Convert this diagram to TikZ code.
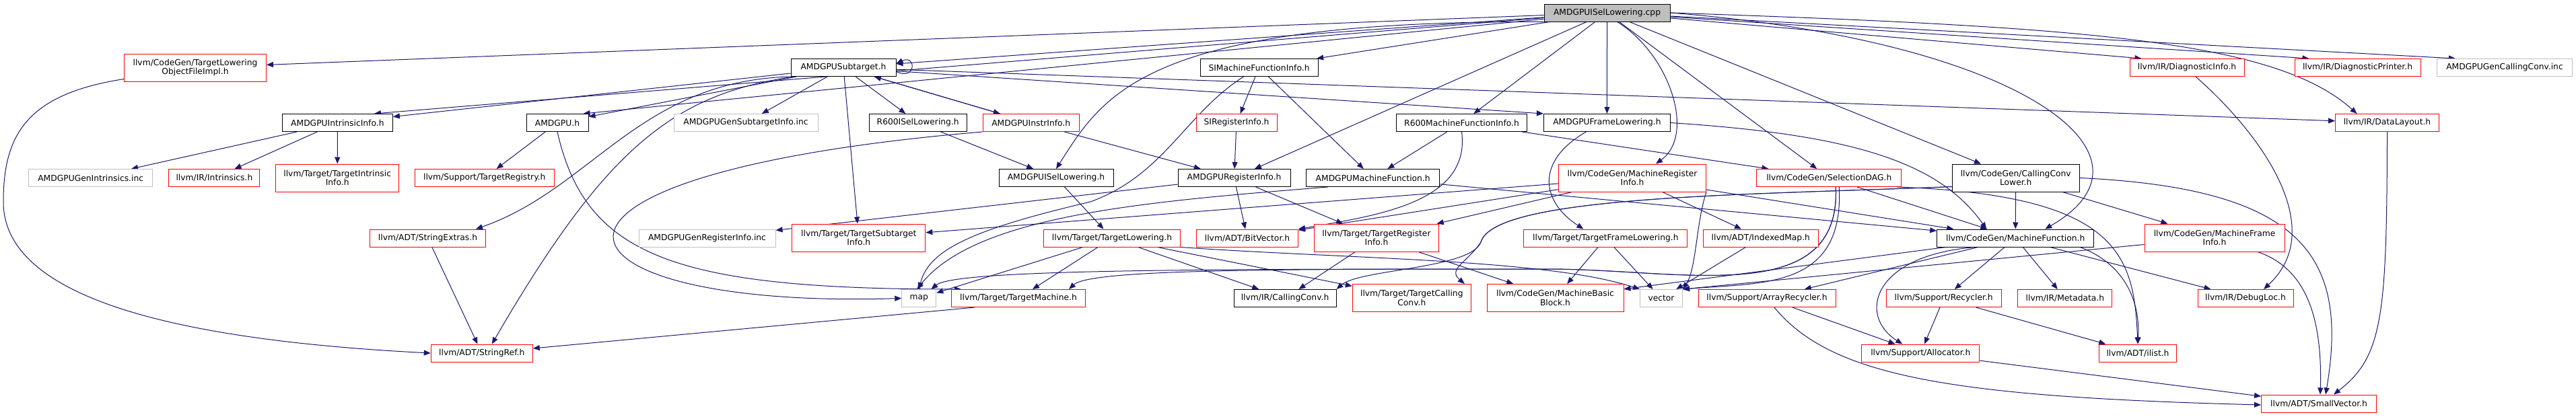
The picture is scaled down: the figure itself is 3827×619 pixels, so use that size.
\documentclass[tikz,border=0pt]{standalone}
\usepackage{fontspec}
\setmainfont{DejaVu Sans}
\usepackage{xcolor}
\usepackage{tikz}
\usetikzlibrary{arrows.meta}
\pgfdeclarelayer{edges}
\pgfsetlayers{edges,main}
\definecolor{edgeblue}{HTML}{191970}
\definecolor{extgray}{HTML}{BFBFBF}

\begin{document}
\begin{tikzpicture}[
  x=1pt, y=-1pt,
  font=\fontsize{12.3}{13.4}\selectfont,
  box/.style={draw, fill=white, line width=1pt, align=center, minimum height=26pt, inner sep=2pt},
  hdr/.style={box, draw=black},
  trunc/.style={box, draw=red},
  ext/.style={box, draw=extgray},
  root/.style={box, draw=black, fill=extgray},
  tall/.style={minimum height=41pt},
  dep/.style={-{Triangle[length=10pt, width=8pt]}, draw=edgeblue, line width=1pt}]
\useasboundingbox (0,0) rectangle (3827,619);

\node[root, minimum width=187pt] (cpp) at (2387.5,19) {AMDGPUISelLowering.cpp};

\node[trunc, tall, minimum width=211pt] (tlofi) at (290,100.5) {llvm/CodeGen/TargetLowering\\ObjectFileImpl.h};
\node[hdr, minimum width=156pt] (subtgt) at (1253,100.5) {AMDGPUSubtarget.h};
\node[hdr, minimum width=175pt] (simfi) at (1870.5,100.5) {SIMachineFunctionInfo.h};
\node[trunc, minimum width=170pt] (diaginfo) at (3249,100.5) {llvm/IR/DiagnosticInfo.h};
\node[trunc, minimum width=187pt] (diagprn) at (3502.5,100.5) {llvm/IR/DiagnosticPrinter.h};
\node[ext, minimum width=201pt] (gencc) at (3721,100.5) {AMDGPUGenCallingConv.inc};

\node[hdr, minimum width=164pt] (intrinfo) at (501.4,182.5) {AMDGPUIntrinsicInfo.h};
\node[hdr, minimum width=92pt] (amdgpu) at (828,182.5) {AMDGPU.h};
\node[ext, minimum width=214pt] (gensubtgt) at (1108,182.5) {AMDGPUGenSubtargetInfo.inc};
\node[hdr, minimum width=145pt] (r600isel) at (1363.7,182.5) {R600ISelLowering.h};
\node[trunc, minimum width=143pt] (instrinfo) at (1531.7,182.5) {AMDGPUInstrInfo.h};
\node[trunc, minimum width=120pt] (siregi) at (1837,182.5) {SIRegisterInfo.h};
\node[hdr, minimum width=194pt] (r600mfi) at (2171.5,182.5) {R600MachineFunctionInfo.h};
\node[hdr, minimum width=188pt] (framelow) at (2387.4,182.5) {AMDGPUFrameLowering.h};
\node[trunc, minimum width=154pt] (datalayout) at (3546.5,182.5) {llvm/IR/DataLayout.h};

\node[ext, minimum width=184pt] (genintr) at (134.7,264.5) {AMDGPUGenIntrinsics.inc};
\node[trunc, minimum width=135pt] (intrinsics) at (318.4,264.5) {llvm/IR/Intrinsics.h};
\node[trunc, tall, minimum width=183pt] (tgtintr) at (501.2,264.5) {llvm/Target/TargetIntrinsic\\Info.h};
\node[trunc, minimum width=207pt] (tgtreg) at (719.8,264.5) {llvm/Support/TargetRegistry.h};
\node[hdr, minimum width=170pt] (iseldh) at (1569,264.5) {AMDGPUISelLowering.h};
\node[hdr, minimum width=167pt] (regi) at (1833.5,264.5) {AMDGPURegisterInfo.h};
\node[hdr, minimum width=198pt] (amdmf) at (2039.7,264.5) {AMDGPUMachineFunction.h};
\node[trunc, tall, minimum width=219pt] (mri) at (2425,264.5) {llvm/CodeGen/MachineRegister\\Info.h};
\node[trunc, minimum width=215pt] (seldag) at (2717.3,264.5) {llvm/CodeGen/SelectionDAG.h};
\node[hdr, tall, minimum width=189pt] (ccl) at (2994.7,264.5) {llvm/CodeGen/CallingConv\\Lower.h};

\node[trunc, minimum width=172pt] (strext) at (635.5,354) {llvm/ADT/StringExtras.h};
\node[ext, minimum width=203pt] (genreg) at (1050.5,354) {AMDGPUGenRegisterInfo.inc};
\node[trunc, tall, minimum width=198pt] (tgtsub) at (1275.8,353.5) {llvm/Target/TargetSubtarget\\Info.h};
\node[trunc, minimum width=203pt] (tgtlow) at (1652,354) {llvm/Target/TargetLowering.h};
\node[trunc, minimum width=151pt] (bitvec) at (1853,354) {llvm/ADT/BitVector.h};
\node[trunc, tall, minimum width=185pt] (tgtregi) at (2045,353.5) {llvm/Target/TargetRegister\\Info.h};
\node[trunc, minimum width=243pt] (tgtframe) at (2385.4,354) {llvm/Target/TargetFrameLowering.h};
\node[trunc, minimum width=171pt] (idxmap) at (2615.8,354) {llvm/ADT/IndexedMap.h};
\node[hdr, minimum width=233pt] (mf) at (2994.2,354) {llvm/CodeGen/MachineFunction.h};
\node[trunc, tall, minimum width=208pt] (mfi) at (3290,353.5) {llvm/CodeGen/MachineFrame\\Info.h};

\node[ext, minimum width=51pt] (map) at (1365.3,443.5) {map};
\node[trunc, minimum width=199pt] (tgtmach) at (1513,443.5) {llvm/Target/TargetMachine.h};
\node[hdr, minimum width=152pt] (callconv) at (1909,443.5) {llvm/IR/CallingConv.h};
\node[trunc, tall, minimum width=176pt] (tgtcc) at (2097.3,443) {llvm/Target/TargetCalling\\Conv.h};
\node[trunc, tall, minimum width=203pt] (mbb) at (2310.5,443) {llvm/CodeGen/MachineBasic\\Block.h};
\node[ext, minimum width=63pt] (vector) at (2468,443.5) {vector};
\node[trunc, minimum width=204pt] (arrrec) at (2625,443.5) {llvm/Support/ArrayRecycler.h};
\node[trunc, minimum width=171pt] (recyc) at (2887.7,443.5) {llvm/Support/Recycler.h};
\node[trunc, minimum width=140pt] (metadata) at (3067.9,443.5) {llvm/IR/Metadata.h};
\node[trunc, minimum width=142pt] (debugloc) at (3336,443.5) {llvm/IR/DebugLoc.h};

\node[trunc, minimum width=151pt] (strref) at (715.8,525) {llvm/ADT/StringRef.h};
\node[trunc, minimum width=175pt] (alloc) at (2853.3,525) {llvm/Support/Allocator.h};
\node[trunc, minimum width=115pt] (ilist) at (3176,525) {llvm/ADT/ilist.h};

\node[trunc, minimum width=171pt] (smallvec) at (3445,600) {llvm/ADT/SmallVector.h};

\begin{pgfonlayer}{edges}
\draw[dep] (cpp) -- (tlofi);
\draw[dep] (cpp) -- ([xshift=-28pt]intrinfo.north east);
\draw[dep] (cpp) -- ([xshift=-8pt]amdgpu.north east);
\draw[dep] (cpp) -- (subtgt);
\draw[dep] (cpp) -- (simfi);
\draw[dep] (cpp.south west) .. controls (1700,30) and (1640,140) .. (iseldh.north);
\draw[dep] (cpp) -- (regi);
\draw[dep] (cpp) -- (r600mfi);
\draw[dep] (cpp) -- (framelow);
\draw[dep] ([xshift=15pt]cpp.south) .. controls (2480,80) and (2520,200) .. ([xshift=35pt]mri.north);
\draw[dep] (cpp) -- (seldag);
\draw[dep] (cpp) -- (ccl);
\draw[dep] (cpp.east) .. controls (3000,60) and (3230,230) .. ([xshift=44pt]mf.north);
\draw[dep] (cpp) -- ([xshift=18pt]diaginfo.north west);
\draw[dep] (cpp) -- ([xshift=22pt]diagprn.north west);
\draw[dep] (cpp) -- ([xshift=28pt]gencc.north west);
\draw[dep] (cpp.east) .. controls (3100,40) and (3380,60) .. ([xshift=-45pt]datalayout.north);

\draw[dep] ([yshift=-6pt]subtgt.east) .. controls +(30,14) and +(30,-14) .. ([yshift=6pt]subtgt.east);
\draw[dep] (subtgt) -- (amdgpu);
\draw[dep] (subtgt) -- (intrinfo);
\draw[dep] (subtgt) -- (gensubtgt);
\draw[dep] (subtgt) -- (r600isel);
\draw[dep] (subtgt) -- (instrinfo);
\draw[dep] (subtgt) -- (framelow.north west);
\draw[dep] (subtgt) -- (datalayout);
\draw[dep] (subtgt) -- (tgtsub);
\draw[dep] (subtgt.south west) .. controls (950,120) and (880,280) .. ([xshift=-15pt]strext.north east);
\draw[dep] ([xshift=5pt]subtgt.south west) .. controls (1000,140) and (900,220) .. ([xshift=15pt]strref.north);

\draw[dep] ([yshift=4pt]tlofi.south west) .. controls (40,140) and (5,200) .. (5,300) .. controls (5,440) and (250,505) .. (strref.west);
\draw[dep] (intrinfo) -- (genintr);
\draw[dep] (intrinfo) -- (intrinsics);
\draw[dep] (intrinfo) -- (tgtintr);
\draw[dep] (amdgpu) -- (tgtreg);
\draw[dep] (amdgpu.south) .. controls (870,380) and (1000,430) .. ([xshift=15pt]tgtmach.north west);
\draw[dep] (simfi) -- (siregi);
\draw[dep] (simfi) -- (amdmf);
\draw[dep] ([xshift=-23pt]simfi.south) .. controls (1760,170) and (1730,260) .. (1620,300) .. controls (1450,340) and (1380,370) .. (map.north);
\draw[dep] (r600isel) -- (iseldh);
\draw[dep] (instrinfo) -- (subtgt);
\draw[dep] (instrinfo) -- (regi);
\draw[dep] (instrinfo.south west) .. controls (700,260) and (800,460) .. (map.west);
\draw[dep] (siregi) -- (regi);
\draw[dep] (r600mfi) -- (amdmf);
\draw[dep] (r600mfi.south) .. controls (2185,300) and (2050,320) .. (bitvec.north east);
\draw[dep] (r600mfi) -- (seldag);
\draw[dep] (framelow.east) .. controls (2750,200) and (2880,240) .. ([xshift=-43pt]mf.north);
\draw[dep] ([xshift=-31pt]framelow.south) .. controls (2280,240) and (2290,300) .. ([xshift=-33pt]tgtframe.north);
\draw[dep] (iseldh) -- (tgtlow);
\draw[dep] (regi) -- (genreg);
\draw[dep] (regi) -- (bitvec);
\draw[dep] (regi) -- (tgtregi);
\draw[dep] (amdmf) -- (mf);
\draw[dep] ([xshift=-67pt]amdmf.south) .. controls (1700,300) and (1450,320) .. ([xshift=-3pt]map.north);

\draw[dep] (mri) -- (idxmap);
\draw[dep] (mri) -- (bitvec);
\draw[dep] (mri) -- (tgtregi);
\draw[dep] (mri) -- (tgtsub);
\draw[dep] (mri) -- ([xshift=25pt]mf.north west);
\draw[dep] (mri.south east) .. controls (2520,330) and (2520,400) .. (vector.north east);
\draw[dep] (seldag) -- (mf);
\draw[dep] ([xshift=-7pt]seldag.south east) .. controls (3150,290) and (3170,380) .. (ilist.north);
\draw[dep] ([xshift=15pt]seldag.south) .. controls (2740,430) and (2620,420) .. (vector.north east);
\draw[dep] ([xshift=10pt]seldag.south) .. controls (2735,460) and (2500,400) .. (2300,400) .. controls (1900,400) and (1620,400) .. ([xshift=-25pt]tgtmach.north east);
\draw[dep] ([xshift=10pt]seldag.south) .. controls (2735,460) and (2500,400) .. (2300,400) .. controls (1800,400) and (1420,400) .. ([xshift=-8pt]map.north east);
\draw[dep] (ccl) -- (mf);
\draw[dep] (ccl) -- (mfi);
\draw[dep] ([yshift=8pt]ccl.south west) .. controls (2600,290) and (2220,290) .. (2200,360) .. controls (2185,400) and (2020,400) .. (callconv.north east);
\draw[dep] ([yshift=8pt]ccl.south west) .. controls (2600,290) and (2220,290) .. (2200,360) .. controls (2180,390) and (2150,400) .. ([xshift=-10pt]tgtcc.north east);
\draw[dep] (ccl.east) .. controls (3420,280) and (3490,380) .. ([xshift=10pt]smallvec.north);

\draw[dep] (tgtlow) -- (map);
\draw[dep] (tgtlow) -- (tgtmach);
\draw[dep] (tgtlow) -- (callconv);
\draw[dep] (tgtlow) -- (tgtcc);
\draw[dep] (tgtlow.south east) .. controls (2000,385) and (2300,385) .. (vector.north west);
\draw[dep] (tgtregi) -- (mbb);
\draw[dep] (tgtregi) -- (callconv);
\draw[dep] (tgtframe) -- (mbb);
\draw[dep] (tgtframe) -- (vector);
\draw[dep] (idxmap) -- (vector);
\draw[dep] (mf) -- (arrrec);
\draw[dep] (mf) -- (recyc);
\draw[dep] (mf) -- (metadata);
\draw[dep] (mf) -- (debugloc);
\draw[dep] (mf) -- (mbb);
\draw[dep] ([xshift=-60pt]mf.south) .. controls (2780,380) and (2760,470) .. ([xshift=-27pt]alloc.north);
\draw[dep] ([xshift=96pt]mf.south) .. controls (3150,390) and (3180,440) .. (ilist.north);
\draw[dep] (mfi) -- (vector.north east);
\draw[dep] ([xshift=64pt]mfi.south) .. controls (3430,400) and (3450,480) .. ([xshift=2pt]smallvec.north);
\draw[dep] ([xshift=35pt]tgtmach.south west) -- (strref);
\draw[dep] ([xshift=13pt]diaginfo.south) .. controls (3360,200) and (3460,340) .. ([xshift=27pt]debugloc.north);
\draw[dep] (datalayout.south) .. controls (3546,470) and (3540,530) .. ([xshift=22pt]smallvec.north);
\draw[dep] (arrrec) -- (alloc);
\draw[dep] ([xshift=11pt]arrrec.south) .. controls (2720,560) and (2900,590) .. ([yshift=-2pt]smallvec.west);
\draw[dep] (recyc) -- (alloc);
\draw[dep] (recyc) -- (ilist);
\draw[dep] (alloc) -- (smallvec);
\draw[dep] (strext) -- (strref);
\end{pgfonlayer}
\end{tikzpicture}
\end{document}
